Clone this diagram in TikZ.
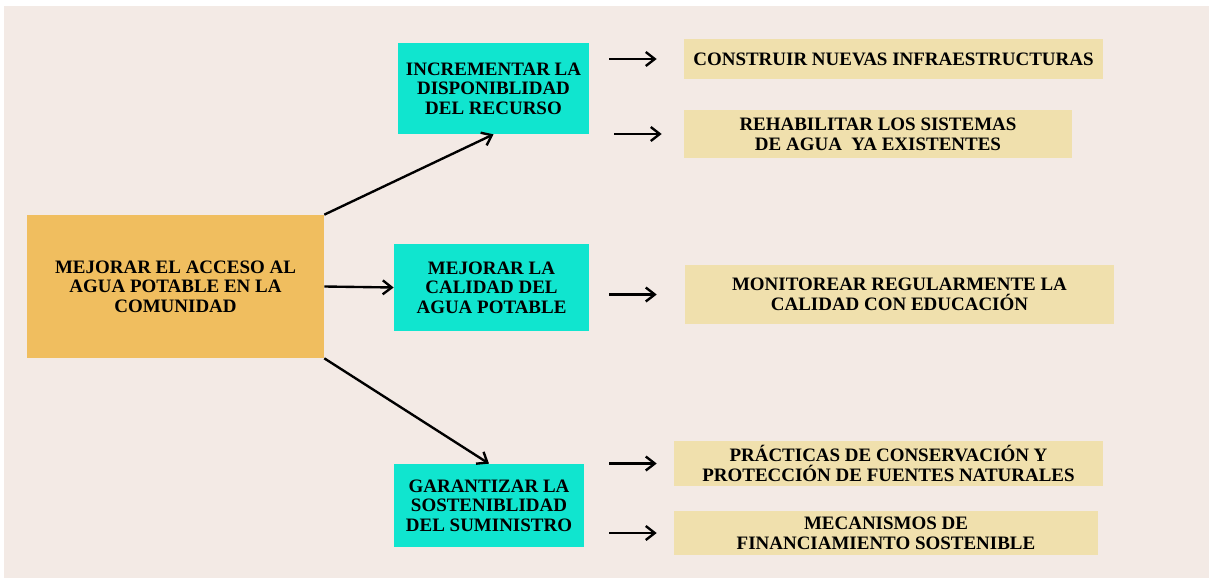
\documentclass[tikz,border=0pt]{standalone}
\usepackage{fontspec}
\setmainfont{Liberation Serif}
\usetikzlibrary{arrows.meta,positioning}
\definecolor{paper}{HTML}{F3EAE5}
\definecolor{goal}{HTML}{F0BE5F}
\definecolor{teal}{HTML}{10E5CF}
\definecolor{task}{HTML}{F0E0AD}

\begin{document}
\begin{tikzpicture}[x=0.02cm, y=-0.02cm,
  box/.style={rectangle, fill=#1, inner sep=0pt, align=center, font=\fontsize{10.8}{11.2}\selectfont\bfseries},
  arr/.style={-{Straight Barb[length=1.8mm, width=2.8mm]}, line width=1.35pt, black}
]
  \useasboundingbox (0,0) rectangle (1209,578);
  \fill[paper] (4,6) rectangle (1209,578);

  \node[box=goal, minimum width=5.94cm, minimum height=2.86cm] (goal) at (175.5,286.5) {MEJORAR EL ACCESO AL\\AGUA POTABLE EN LA\\COMUNIDAD};

  \node[box=teal, minimum width=3.82cm, minimum height=1.82cm] (t1) at (493.5,88.5) {INCREMENTAR LA\\DISPONIBLIDAD\\DEL RECURSO};
  \node[box=teal, minimum width=3.90cm, minimum height=1.74cm] (t2) at (491.5,287.5) {MEJORAR LA\\CALIDAD DEL\\AGUA POTABLE};
  \node[box=teal, minimum width=3.80cm, minimum height=1.66cm] (t3) at (489,505.5) {GARANTIZAR LA\\SOSTENIBLIDAD\\DEL SUMINISTRO};

  \node[box=task, minimum width=8.38cm, minimum height=0.80cm] (c1) at (893.5,59) {CONSTRUIR NUEVAS INFRAESTRUCTURAS};
  \node[box=task, minimum width=7.76cm, minimum height=0.96cm] (c2) at (878,134) {REHABILITAR LOS SISTEMAS\\DE AGUA\ \ YA EXISTENTES};
  \node[box=task, minimum width=8.58cm, minimum height=1.18cm] (c3) at (899.5,294.5) {MONITOREAR REGULARMENTE LA\\CALIDAD CON EDUCACIÓN};
  \node[box=task, minimum width=8.58cm, minimum height=0.90cm] (c4) at (888.5,463.5) {PRÁCTICAS DE CONSERVACIÓN Y\\PROTECCIÓN DE FUENTES NATURALES};
  \node[box=task, minimum width=8.48cm, minimum height=0.88cm] (c5) at (886,533) {MECANISMOS DE\\FINANCIAMIENTO SOSTENIBLE};

  \draw[arr] (goal.north east) -- (t1.south);
  \draw[arr] (goal.east) -- (t2.west);
  \draw[arr] (goal.south east) -- (t3.north);

  \draw[arr, shorten <=0.40cm, shorten >=0.54cm] (t1.east |- c1.west) -- (c1.west);
  \draw[arr, shorten <=0.50cm, shorten >=0.44cm] (t1.east |- c2.west) -- (c2.west);
  \draw[arr, shorten <=0.40cm, shorten >=0.56cm] (t2.east |- c3.west) -- (c3.west);
  \draw[arr, shorten <=0.50cm, shorten >=0.34cm] (t3.east |- c4.west) -- (c4.west);
  \draw[arr, shorten <=0.50cm, shorten >=0.34cm] (t3.east |- c5.west) -- (c5.west);
\end{tikzpicture}
\end{document}
